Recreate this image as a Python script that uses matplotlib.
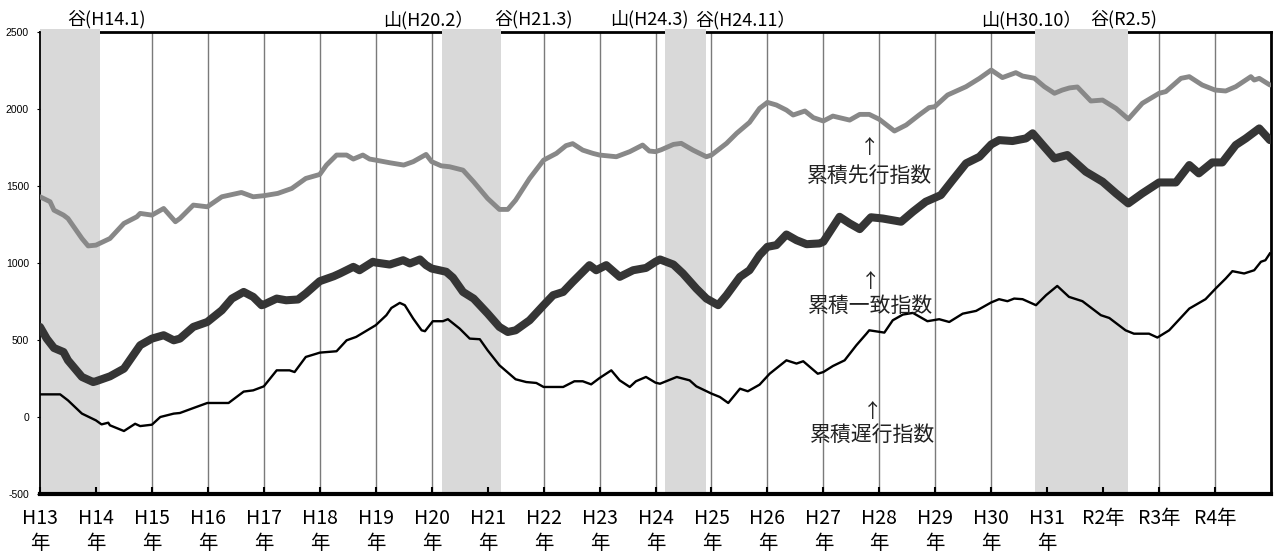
import matplotlib
matplotlib.use("Agg")
import matplotlib.pyplot as plt

# ---------------- data ----------------
# decimal years (2001.0 = H13.1)
lead_t = [2001.00, 2001.18, 2001.25, 2001.42, 2001.50, 2001.75, 2001.86, 2002.00, 2002.25, 2002.50,
          2002.73, 2002.79, 2003.00, 2003.21, 2003.42, 2003.50, 2003.74, 2003.99, 2004.25, 2004.60,
          2004.81, 2005.00, 2005.25, 2005.50, 2005.75, 2006.00, 2006.12, 2006.30, 2006.48, 2006.60,
          2006.77, 2006.89, 2007.00, 2007.25, 2007.50, 2007.67, 2007.90, 2008.00, 2008.17, 2008.32,
          2008.56, 2008.75, 2009.00, 2009.21, 2009.36, 2009.50, 2009.75, 2010.00, 2010.23, 2010.40,
          2010.52, 2010.70, 2010.88, 2011.00, 2011.30, 2011.54, 2011.77, 2011.89, 2012.00, 2012.10,
          2012.32, 2012.46, 2012.67, 2012.91, 2013.00, 2013.27, 2013.45, 2013.68, 2013.86, 2014.00,
          2014.16, 2014.34, 2014.46, 2014.67, 2014.82, 2015.00, 2015.17, 2015.47, 2015.65, 2015.82,
          2016.00, 2016.27, 2016.48, 2016.71, 2016.89, 2016.99, 2017.22, 2017.55, 2017.79, 2018.00,
          2018.20, 2018.44, 2018.56, 2018.77, 2018.95, 2019.13, 2019.27, 2019.40, 2019.54, 2019.78,
          2019.99, 2020.23, 2020.45, 2020.70, 2021.00, 2021.12, 2021.39, 2021.54, 2021.77, 2022.00,
          2022.19, 2022.37, 2022.64, 2022.70, 2022.79, 2022.98]
lead_v = [1430, 1398, 1343, 1311, 1289, 1159, 1111, 1116, 1159, 1257,
          1300, 1322, 1311, 1354, 1268, 1289, 1376, 1365, 1430, 1458,
          1430, 1437, 1452, 1484, 1549, 1575, 1636, 1701, 1701, 1675,
          1701, 1675, 1668, 1651, 1636, 1658, 1705, 1658, 1631, 1625,
          1603, 1527, 1419, 1348, 1348, 1408, 1549, 1668, 1712, 1762,
          1775, 1733, 1712, 1701, 1690, 1723, 1766, 1727, 1723, 1735,
          1770, 1777, 1733, 1690, 1701, 1777, 1842, 1913, 2004, 2043,
          2026, 1993, 1961, 1987, 1944, 1922, 1954, 1928, 1965, 1965,
          1933, 1857, 1896, 1961, 2009, 2015, 2091, 2145, 2199, 2253,
          2204, 2236, 2214, 2200, 2145, 2102, 2123, 2137, 2143, 2052,
          2058, 2004, 1935, 2037, 2102, 2113, 2199, 2210, 2156, 2123,
          2117, 2145, 2210, 2188, 2199, 2156]

coin_t = [2001.00, 2001.12, 2001.25, 2001.42, 2001.50, 2001.75, 2001.95, 2002.00, 2002.25, 2002.50,
          2002.79, 2003.00, 2003.21, 2003.39, 2003.50, 2003.74, 2003.99, 2004.25, 2004.43, 2004.64,
          2004.81, 2004.96, 2005.00, 2005.23, 2005.40, 2005.61, 2005.75, 2006.00, 2006.25, 2006.36,
          2006.60, 2006.71, 2006.95, 2007.00, 2007.25, 2007.49, 2007.61, 2007.79, 2007.90, 2008.00,
          2008.26, 2008.38, 2008.56, 2008.75, 2009.00, 2009.21, 2009.36, 2009.50, 2009.75, 2010.00,
          2010.17, 2010.35, 2010.52, 2010.82, 2010.94, 2011.12, 2011.36, 2011.60, 2011.83, 2012.00,
          2012.08, 2012.32, 2012.49, 2012.73, 2012.91, 2013.12, 2013.27, 2013.51, 2013.68, 2013.86,
          2014.00, 2014.16, 2014.34, 2014.52, 2014.70, 2014.93, 2015.00, 2015.29, 2015.47, 2015.65,
          2015.85, 2016.06, 2016.39, 2016.60, 2016.83, 2017.10, 2017.31, 2017.55, 2017.79, 2018.00,
          2018.14, 2018.38, 2018.62, 2018.74, 2018.92, 2019.13, 2019.36, 2019.69, 2019.99, 2020.23,
          2020.45, 2020.70, 2021.00, 2021.30, 2021.54, 2021.71, 2021.95, 2022.13, 2022.37, 2022.55,
          2022.79, 2022.98]
coin_v = [585, 509, 448, 422, 368, 260, 227, 232, 264, 314,
          466, 509, 531, 498, 509, 585, 617, 693, 769, 812,
          780, 726, 730, 769, 758, 763, 802, 882, 914, 932,
          975, 953, 1008, 1003, 990, 1018, 997, 1023, 986, 964,
          943, 905, 812, 769, 672, 585, 552, 563, 628, 726,
          791, 812, 877, 986, 953, 986, 910, 953, 968, 1008,
          1023, 990, 932, 834, 769, 726, 791, 910, 953, 1051,
          1105, 1116, 1185, 1148, 1122, 1127, 1138, 1300, 1257, 1220,
          1297, 1289, 1268, 1333, 1398, 1441, 1538, 1647, 1690, 1770,
          1798, 1792, 1809, 1842, 1766, 1679, 1701, 1593, 1528, 1452,
          1387, 1452, 1523, 1523, 1636, 1582, 1653, 1653, 1766, 1809,
          1874, 1798]

lag_t = [2001.00, 2001.36, 2001.50, 2001.72, 2001.75, 2002.00, 2002.10, 2002.22, 2002.25, 2002.50,
         2002.70, 2002.79, 2003.00, 2003.15, 2003.39, 2003.50, 2003.74, 2003.99, 2004.37, 2004.64,
         2004.81, 2005.00, 2005.23, 2005.46, 2005.55, 2005.75, 2005.94, 2006.00, 2006.30, 2006.48,
         2006.65, 2007.00, 2007.19, 2007.28, 2007.43, 2007.52, 2007.67, 2007.82, 2007.88, 2008.02,
         2008.20, 2008.29, 2008.50, 2008.68, 2008.86, 2009.00, 2009.21, 2009.50, 2009.69, 2009.87,
         2010.00, 2010.35, 2010.55, 2010.70, 2010.85, 2011.00, 2011.21, 2011.36, 2011.54, 2011.65,
         2011.83, 2012.00, 2012.08, 2012.38, 2012.61, 2012.73, 2013.00, 2013.15, 2013.30, 2013.51,
         2013.65, 2013.86, 2014.04, 2014.34, 2014.52, 2014.64, 2014.90, 2015.00, 2015.17, 2015.38,
         2015.59, 2015.77, 2015.82, 2016.09, 2016.24, 2016.42, 2016.60, 2016.86, 2017.07, 2017.25,
         2017.49, 2017.73, 2018.00, 2018.14, 2018.29, 2018.41, 2018.56, 2018.80, 2018.98, 2019.18,
         2019.39, 2019.63, 2019.96, 2020.11, 2020.40, 2020.55, 2020.82, 2020.97, 2021.18, 2021.54,
         2021.83, 2022.01, 2022.19, 2022.31, 2022.52, 2022.70, 2022.82, 2022.90, 2022.98]
lag_v = [147, 147, 108, 32, 22, -22, -48, -37, -54, -91,
         -44, -59, -50, 0, 22, 26, 58, 91, 91, 165,
         173, 199, 303, 303, 292, 390, 411, 418, 427, 498,
         520, 596, 661, 708, 741, 726, 639, 563, 557, 622,
         622, 635, 574, 509, 505, 433, 336, 245, 227, 221,
         195, 195, 232, 232, 212, 253, 303, 238, 195, 232,
         260, 223, 216, 260, 238, 199, 152, 130, 91, 184,
         167, 210, 281, 368, 347, 362, 281, 292, 331, 368,
         466, 541, 563, 548, 628, 665, 676, 622, 635, 617,
         671, 689, 744, 765, 752, 769, 765, 726, 791, 851,
         780, 752, 661, 643, 563, 541, 541, 516, 563, 704,
         765, 834, 899, 947, 932, 953, 1008, 1018, 1062]

# recession periods (peak -> trough), decimal years
rec_start = [2001.00, 2008.18, 2012.17, 2018.78]
rec_end = [2002.07, 2009.23, 2012.91, 2020.44]

# peak / trough labels along the top
turn_labels = ["谷(H14.1)", "山(H20.2）", "谷(H21.3)", "山(H24.3)", "谷(H24.11）", "山(H30.10）", "谷(R2.5)"]
turn_label_x = [2002.18, 2007.94, 2009.82, 2011.89, 2013.61, 2018.71, 2020.36]

years = list(range(2001, 2023))
year_labels = ["H13\n年", "H14\n年", "H15\n年", "H16\n年", "H17\n年", "H18\n年", "H19\n年",
               "H20\n年", "H21\n年", "H22\n年", "H23\n年", "H24\n年", "H25\n年", "H26\n年",
               "H27\n年", "H28\n年", "H29\n年", "H30\n年", "H31\n年", "R2年", "R3年", "R4年"]

series_names = ["累積先行指数", "累積一致指数", "累積遅行指数"]

# ---------------- plot ----------------
JP = ["Noto Sans CJK JP", "DejaVu Sans"]
plt.rcParams["font.family"] = JP

fig = plt.figure(figsize=(12.76, 5.52), dpi=100)
ax = fig.add_axes([40 / 1276, 58 / 552, 1231 / 1276, 462 / 552])

ax.set_xlim(2001, 2023)
ax.set_ylim(-500, 2500)

# vertical year gridlines
for y in years[1:]:
    ax.axvline(y, color="#7a7a7a", lw=1.0, zorder=0.6)

# recession shading (covers gridlines and top spine)
for s, e in zip(rec_start, rec_end):
    ax.axvspan(s, e, ymin=0, ymax=1.006, color="#d9d9d9", lw=0, zorder=1.2, clip_on=False)

ax.plot(lead_t, lead_v, color="#888888", lw=3.5, solid_joinstyle="round", solid_capstyle="round", zorder=3)
ax.plot(coin_t, coin_v, color="#353535", lw=5.8, solid_joinstyle="round", solid_capstyle="round", zorder=4)
ax.plot(lag_t, lag_v, color="black", lw=1.7, solid_joinstyle="round", zorder=5)

# spines
for side, w in [("top", 2.0), ("bottom", 3.0), ("left", 1.3), ("right", 2.0)]:
    ax.spines[side].set_linewidth(w)
    ax.spines[side].set_color("black")
ax.spines["top"].set_zorder(0.9)

# ticks
ax.set_xticks(years)
ax.set_xticklabels(year_labels, fontsize=14, linespacing=1.25, family=JP)
ax.tick_params(axis="x", direction="in", length=5, width=1.5, pad=10, color="black")
ax.set_yticks([-500, 0, 500, 1000, 1500, 2000, 2500])
ax.set_yticklabels(["-500", "0", "500", "1000", "1500", "2000", "2500"],
                   fontsize=7.5, family=["Liberation Sans", "DejaVu Sans"])
ax.tick_params(axis="y", direction="out", length=2, width=0.8, pad=6)

# top labels
for lab, x in zip(turn_labels, turn_label_x):
    ax.text(x, 1.027, lab, transform=ax.get_xaxis_transform(), ha="center", va="center",
            fontsize=13, clip_on=False, zorder=6)

# series annotations
ann_x = [2015.83, 2015.85, 2015.88]
arrow_y = [1747, 882, 37]
name_y = [1565, 720, -119]
for name, x, ay, ny in zip(series_names, ann_x, arrow_y, name_y):
    ax.text(x, ay, "↑", ha="center", va="center", fontsize=14, color="#222222", zorder=6)
    ax.text(x, ny, name, ha="center", va="center", fontsize=15, color="#222222", zorder=6)

fig.savefig("out.png", dpi=100)
